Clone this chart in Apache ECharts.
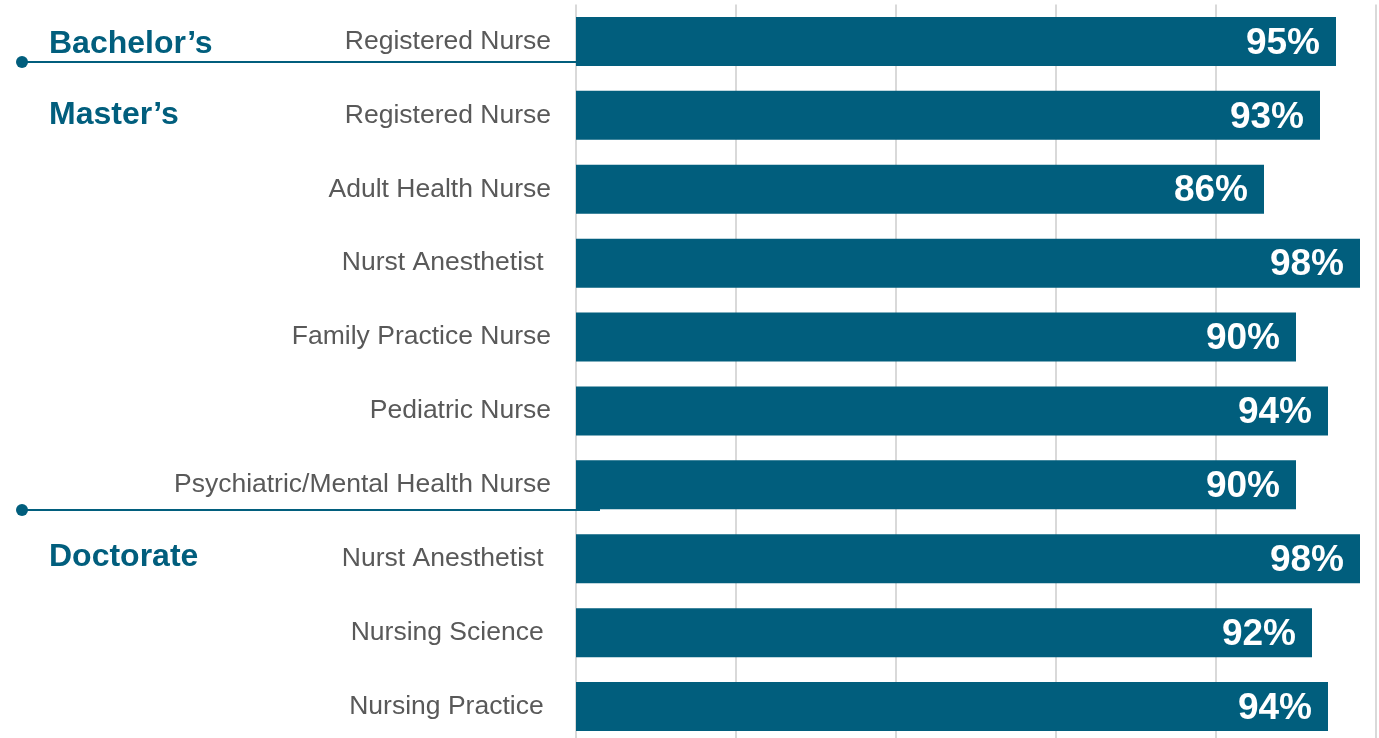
<!DOCTYPE html>
<html>
<head>
<meta charset="utf-8">
<script src="https://cdn.jsdelivr.net/npm/echarts@6/dist/echarts.min.js"></script>
<style>
html, body { margin: 0; padding: 0; background: #fff; }
#main { width: 1379px; height: 738px; }
</style>
</head>
<body>
<div id="main"></div>
<script>
var programs = ['Registered Nurse', 'Registered Nurse', 'Adult Health Nurse', 'Nurst Anesthetist ',
  'Family Practice Nurse', 'Pediatric Nurse', 'Psychiatric/Mental Health Nurse',
  'Nurst Anesthetist ', 'Nursing Science ', 'Nursing Practice '];
var rates = [95, 93, 86, 98, 90, 94, 90, 98, 92, 94];
var xTicks = [0, 20, 40, 60, 80, 100];

var teal = '#015e7d';
var myChart = echarts.init(document.getElementById('main'));

var option = {
  animation: false,
  grid: { left: 576, top: 4.5, width: 800, height: 739, outerBoundsMode: 'none', containLabel: false },
  xAxis: {
    type: 'value',
    min: xTicks[0],
    max: xTicks[xTicks.length - 1],
    interval: 20,
    axisLabel: { show: false },
    axisLine: { show: false },
    axisTick: { show: false },
    splitLine: { lineStyle: { color: '#d9d9d9', width: 2 } }
  },
  yAxis: {
    type: 'category',
    inverse: true,
    data: programs,
    axisLine: { show: false },
    axisTick: { show: false },
    axisLabel: {
      margin: 25,
      padding: [4, 0, 0, 0],
      color: '#595959',
      fontFamily: '"Liberation Sans", Arial, sans-serif',
      fontSize: 26.5
    }
  },
  series: [{
    type: 'bar',
    data: rates,
    barWidth: 49,
    itemStyle: { color: teal },
    label: {
      show: true,
      position: 'insideRight',
      distance: 16,
      offset: [0, 2],
      formatter: '{c}%',
      color: '#fff',
      fontWeight: 'bold',
      fontFamily: '"Liberation Sans", Arial, sans-serif',
      fontSize: 37
    }
  }],
  graphic: [
    { type: 'text', left: 49, top: 28, z: 10,
      style: { text: 'Bachelor\u2019s', fill: teal, font: 'bold 32px "Liberation Sans", Arial, sans-serif' } },
    { type: 'text', left: 49, top: 99, z: 10,
      style: { text: 'Master\u2019s', fill: teal, font: 'bold 32px "Liberation Sans", Arial, sans-serif' } },
    { type: 'text', left: 49, top: 541, z: 10,
      style: { text: 'Doctorate', fill: teal, font: 'bold 32px "Liberation Sans", Arial, sans-serif' } },
    { type: 'line', z: 10, shape: { x1: 22, y1: 62, x2: 576, y2: 62 },
      style: { stroke: teal, lineWidth: 2 } },
    { type: 'circle', z: 10, shape: { cx: 22, cy: 62, r: 6 }, style: { fill: teal } },
    { type: 'line', z: 10, shape: { x1: 22, y1: 510, x2: 600, y2: 510 },
      style: { stroke: teal, lineWidth: 2 } },
    { type: 'circle', z: 10, shape: { cx: 22, cy: 510, r: 6 }, style: { fill: teal } }
  ]
};
myChart.setOption(option);
window.addEventListener('resize', function () { myChart.resize(); });
</script>
</body>
</html>
